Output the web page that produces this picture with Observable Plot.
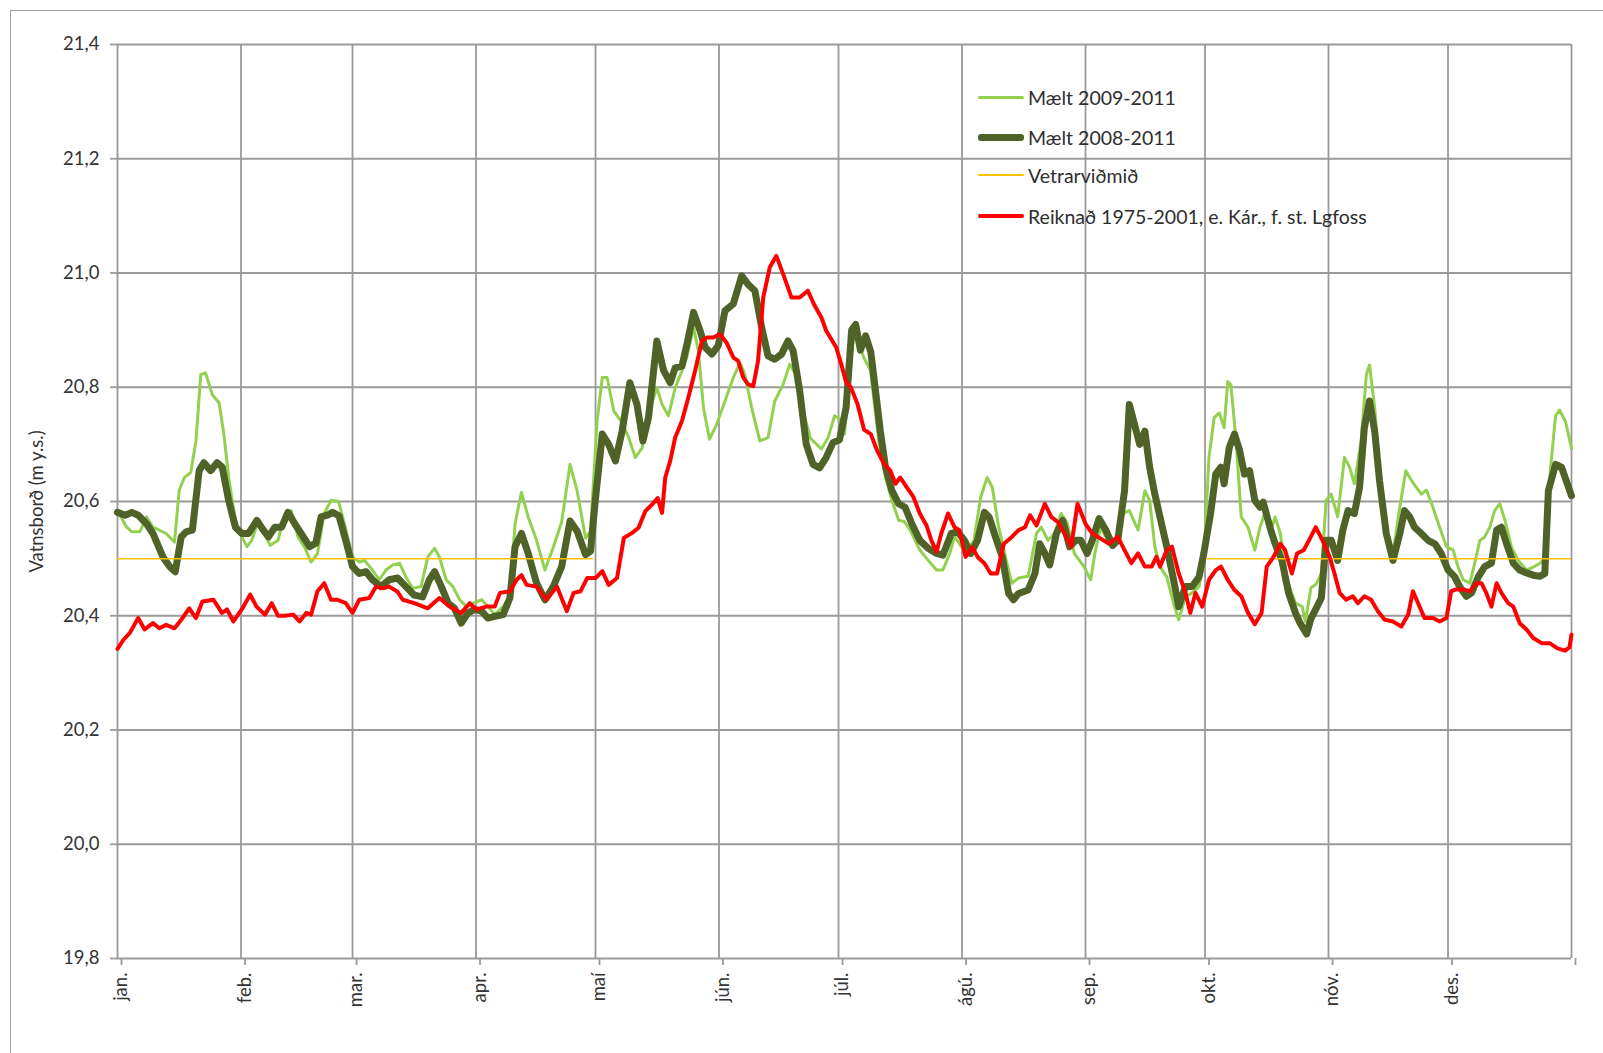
<!DOCTYPE html>
<html>
<head>
<meta charset="utf-8">
<script src="https://cdn.jsdelivr.net/npm/d3@7"></script>
<script src="https://cdn.jsdelivr.net/npm/@observablehq/plot@0.6"></script>
<style>
html, body { margin: 0; padding: 0; background: #fff; overflow: hidden; }
#wrap { position: relative; width: 1603px; height: 1053px; }
#frame { position: absolute; left: 10px; top: 10px; width: 1650px; height: 1100px; border: 1.5px solid #a0a0a0; box-sizing: border-box; }
#chart { position: absolute; left: 0; top: 0; }
#legend { position: absolute; left: 0; top: 0; font-family: Lato, "Open Sans", sans-serif; font-size: 19.5px; color: #2e2e2e; }
.row { position: absolute; left: 978px; height: 22px; display: flex; align-items: center; white-space: nowrap; }
.sw { display: inline-block; width: 46px; margin-right: 4px; border-radius: 3px; }
</style>
</head>
<body>
<div id="wrap">
  <div id="frame"></div>
  <div id="chart"></div>
  <div id="legend"></div>
</div>
<script>
// ---- data ----
const monthStarts = [0, 31, 59, 90, 120, 151, 181, 212, 243, 273, 304, 334];
const monthLabels = ["jan.", "feb.", "mar.", "apr.", "maí", "jún.", "júl.", "ágú.", "sep.", "okt.", "nóv.", "des."];
const yearEnd = 365;
const yTicks = [19.8, 20.0, 20.2, 20.4, 20.6, 20.8, 21.0, 21.2, 21.4];

const seriesNames = ["Mælt 2009-2011", "Mælt 2008-2011", "Vetrarviðmið", "Reiknað 1975-2001, e. Kár., f. st. Lgfoss"];

const lgDays = [0,2.3,3.6,5.6,7.3,8.9,12.2,14.3,15.5,16.8,18.4,19.7,20.9,22.1,23.8,25.5,26.7,27.9,29.6,31.2,32.5,33.7,35.4,37,38.3,40.3,42,43.6,45.3,46.9,48.6,50.2,51.9,53.6,55.5,57,59,60.7,62,64,65.7,67.4,69.1,70.8,72.4,74.1,76.2,77.9,79.6,80.8,82.5,84.2,85.9,87.6,89.3,91.4,93,94.7,96.8,98.5,99.8,101.4,103.1,105.2,107.3,109.4,111.5,113.6,115.4,117.5,118.75,120.4,121.7,122.9,124.6,126.7,128.3,130,131.7,133.75,135.4,136.7,138.3,140,141.7,142.9,144.6,145.8,147.1,148.6,150.4,152.5,154.6,156.25,157.5,159.2,161.25,163.3,165,167.1,168.75,170.5,172,174,176.7,178.4,180,181.2,182.5,183.7,185,187.4,189,191.1,192.8,194.4,196.1,197.5,199,201.4,203.5,205.6,207.2,208.9,210.1,211.3,212.9,215,216.7,218.3,219.6,221.2,222.9,224.5,226.2,228.6,230.7,231.9,233.6,235.2,236.9,238.5,240.2,242.6,244.3,245.5,246.8,248.1,249.8,251.1,252.3,254,256.2,257.9,259.1,260.4,261.7,263.4,265.1,266.4,268.1,269.8,271.5,272.7,274,275.3,276.6,277.8,278.7,279.5,280.8,282.1,283.8,285.5,286.8,288,289.3,290.6,291.9,293.6,295.7,297.4,298.2,299.6,300.9,302.2,303.4,304.7,306.3,308,309.3,310.5,312.2,313.5,314.3,315.6,316.8,318.5,320.2,321.9,323.4,324.8,326,327.3,328.6,330.2,331.9,333.6,335.3,336.5,337.8,339.5,340.7,342,343.2,344.5,345.7,347,348.3,349.9,351.6,353.7,355.4,357.1,358.7,359.6,361,362,363.5,365];
const lgVals = [20.584,20.555,20.547,20.547,20.573,20.555,20.544,20.529,20.62,20.642,20.651,20.706,20.822,20.825,20.787,20.773,20.718,20.642,20.567,20.538,20.521,20.532,20.567,20.544,20.523,20.532,20.579,20.584,20.538,20.521,20.494,20.509,20.579,20.602,20.6,20.56,20.503,20.494,20.497,20.48,20.463,20.48,20.489,20.492,20.468,20.448,20.451,20.503,20.518,20.503,20.463,20.451,20.428,20.416,20.422,20.428,20.416,20.402,20.416,20.434,20.561,20.616,20.573,20.532,20.48,20.52,20.564,20.665,20.618,20.536,20.548,20.741,20.817,20.817,20.758,20.738,20.712,20.677,20.694,20.764,20.799,20.77,20.75,20.799,20.829,20.852,20.905,20.864,20.764,20.709,20.735,20.776,20.817,20.843,20.822,20.764,20.706,20.712,20.776,20.805,20.84,20.82,20.76,20.71,20.692,20.712,20.75,20.745,20.718,20.822,20.9,20.851,20.83,20.706,20.642,20.602,20.567,20.565,20.55,20.515,20.497,20.48,20.48,20.509,20.538,20.527,20.509,20.532,20.608,20.642,20.625,20.555,20.503,20.457,20.466,20.469,20.544,20.555,20.532,20.544,20.579,20.56,20.509,20.486,20.463,20.515,20.555,20.538,20.52,20.544,20.579,20.584,20.55,20.619,20.602,20.521,20.486,20.468,20.422,20.393,20.434,20.44,20.451,20.497,20.678,20.747,20.755,20.729,20.81,20.804,20.706,20.573,20.555,20.515,20.555,20.579,20.544,20.573,20.544,20.463,20.422,20.416,20.39,20.449,20.455,20.474,20.602,20.613,20.573,20.677,20.66,20.631,20.706,20.822,20.839,20.764,20.648,20.555,20.509,20.59,20.654,20.637,20.625,20.613,20.62,20.59,20.555,20.521,20.515,20.486,20.463,20.457,20.492,20.532,20.538,20.555,20.584,20.596,20.567,20.521,20.497,20.48,20.485,20.492,20.503,20.648,20.75,20.76,20.74,20.693];

const dgDays = [0,1.9,3.6,5.2,7.3,8.9,11.4,13.1,14.5,16,17.2,18.8,20.5,21.7,23.4,25,26.3,27.9,29.6,31.2,32.9,35,36.6,37.9,39.5,41.2,42.8,44.5,46.1,48.2,49.8,51.1,52.7,54,55.6,57.3,59,60.7,62.4,64,66.1,68.2,70.3,72.4,74.5,76.6,78.3,79.6,81.3,83,84.6,86.3,88,89.7,91.4,93,94.7,96.8,98.5,99.8,101.4,103.1,105.2,107.3,109.4,111.5,113.6,115.4,117.5,118.75,120,121.7,123.3,125,126.7,128.6,130.4,131.9,133.3,135.4,137.1,138.75,140,141.7,143.1,144.6,146.25,147.5,149.2,150.8,152.5,154.6,156.7,158.3,160,161.7,163.3,165,166.7,168.3,169.6,171.25,172.9,174.6,176.25,177.9,179.6,181.25,182.9,184.3,185.3,186.5,187.8,189.1,190.3,191.5,192.8,194.4,196.1,197.7,199.4,201.4,203.5,205.6,207.2,209.3,210.9,212.6,214.2,215.9,217.6,218.8,220.4,222.1,223.7,224.9,226.2,228.6,230.3,231.5,232.8,234,235.7,237.3,239,240.6,241.8,243.4,244.7,246.4,248.1,249.8,251.1,252.8,254,255.3,256.6,257.9,259.1,260.4,261.7,263.4,265.1,266.4,268.1,269.8,271.5,272.7,274.4,275.7,277,277.8,279.1,280.4,281.7,282.9,284.2,285.5,286.8,287.6,289.3,290.6,292.3,294,295.7,296.8,298.5,299.6,300.9,302.2,303.4,304.7,306.3,307.6,308.9,310.5,311.8,313,314.3,315.6,316.8,318.5,320.2,321.9,323.1,324.4,325.6,327.3,329,330.7,332.3,334,335.7,336.9,338.6,339.9,341.6,343.2,344.9,346.2,347.4,348.7,350.4,352,353.7,355.4,357.1,358.3,359.2,361,362.5,365];
const dgVals = [20.581,20.576,20.581,20.576,20.561,20.544,20.503,20.486,20.477,20.538,20.547,20.55,20.654,20.668,20.654,20.668,20.66,20.602,20.555,20.544,20.544,20.567,20.55,20.538,20.555,20.555,20.581,20.561,20.544,20.521,20.527,20.573,20.576,20.581,20.575,20.532,20.486,20.474,20.477,20.463,20.451,20.463,20.466,20.451,20.436,20.433,20.463,20.477,20.451,20.422,20.413,20.387,20.405,20.411,20.408,20.396,20.399,20.402,20.431,20.521,20.544,20.509,20.457,20.428,20.451,20.486,20.566,20.548,20.507,20.513,20.606,20.718,20.7,20.671,20.724,20.808,20.77,20.706,20.747,20.881,20.829,20.808,20.834,20.837,20.88,20.931,20.899,20.87,20.858,20.873,20.934,20.946,20.995,20.98,20.969,20.905,20.855,20.849,20.858,20.881,20.864,20.794,20.7,20.665,20.659,20.677,20.703,20.708,20.764,20.9,20.91,20.865,20.89,20.862,20.793,20.723,20.66,20.619,20.596,20.59,20.561,20.532,20.518,20.509,20.506,20.544,20.547,20.532,20.509,20.532,20.581,20.573,20.538,20.503,20.439,20.428,20.439,20.445,20.474,20.526,20.509,20.489,20.544,20.567,20.521,20.532,20.532,20.509,20.532,20.57,20.55,20.523,20.532,20.619,20.77,20.735,20.7,20.723,20.66,20.613,20.573,20.521,20.463,20.416,20.451,20.451,20.468,20.509,20.579,20.648,20.66,20.631,20.695,20.718,20.689,20.648,20.654,20.602,20.59,20.599,20.555,20.526,20.497,20.439,20.405,20.388,20.368,20.395,20.413,20.431,20.532,20.532,20.497,20.55,20.584,20.579,20.625,20.729,20.776,20.723,20.637,20.544,20.497,20.544,20.584,20.573,20.555,20.544,20.532,20.526,20.509,20.48,20.468,20.451,20.434,20.44,20.468,20.486,20.492,20.55,20.555,20.526,20.492,20.48,20.475,20.471,20.469,20.474,20.619,20.665,20.66,20.61];

const redDays = [0,1.5,3.1,5.2,6.8,8.9,10.5,12.2,14.3,16,18,19.7,21.3,24.1,26.2,27.5,29.1,31.2,33.3,34.9,37,38.7,40.3,42,44.1,45.7,47.4,48.6,50.2,51.9,53.6,55.2,57.3,59,60.7,63.2,64.9,66.6,68.2,70.3,71.6,74.5,77.9,80.8,83.4,86.3,88.4,90.1,92.6,94.7,96,98.5,100.2,101.4,102.7,105.2,107.7,110.3,112.8,114.5,116.25,117.9,120,121.7,123.3,125.4,127.1,129.2,130.8,132.5,134.2,135.6,136.7,137.5,138.75,140,141.7,143.3,145,146.7,147.9,149.6,151.25,152.9,154.6,155.8,157.1,158.3,159.6,160.8,162.1,163.75,165.4,167.1,169.2,171.25,173.3,175,176.7,177.9,179.2,180.4,181.7,182.9,184.1,185.8,187.4,189.1,190.7,192.4,194,195.3,196.5,198.1,199.8,201.4,203.1,204.3,205.6,206.8,208.5,210.1,211.3,212.9,214.6,215.9,217.6,219.2,220.8,222.5,224.5,226.2,227.8,229.1,230.7,232.8,234.4,236.1,237.7,239.4,241,243,244.7,246.8,248.9,251.1,252.8,254.5,256.2,257.9,259.6,260.8,261.7,263.4,264.7,266.4,268.1,269.3,270.6,272.3,274,275.7,277,278.7,280.4,282.1,283.8,285.5,287.2,288.5,290.2,291.9,293.1,294.8,296.1,297.8,299.1,300.8,302.5,304.3,305.5,306.8,308.4,310.1,311.4,313,314.7,316.4,318.1,320.2,322.3,324,325.2,326.5,328.1,330.2,331.9,333.6,334.8,336.1,337.8,339.5,341.2,342.4,343.6,344.9,346.2,347.4,349.1,350.4,352,353.7,355.4,357.5,359.5,361.5,363.4,364.5,365];
const redVals = [20.342,20.358,20.37,20.396,20.376,20.387,20.378,20.384,20.378,20.393,20.413,20.396,20.425,20.428,20.405,20.411,20.39,20.411,20.437,20.416,20.402,20.422,20.4,20.4,20.402,20.39,20.405,20.402,20.443,20.457,20.428,20.428,20.422,20.405,20.428,20.431,20.451,20.448,20.451,20.442,20.428,20.422,20.413,20.431,20.416,20.405,20.422,20.411,20.416,20.416,20.44,20.443,20.463,20.471,20.454,20.451,20.428,20.451,20.408,20.44,20.443,20.466,20.466,20.478,20.454,20.466,20.536,20.545,20.554,20.583,20.595,20.606,20.58,20.642,20.671,20.712,20.741,20.782,20.829,20.881,20.887,20.887,20.893,20.878,20.852,20.846,20.817,20.805,20.802,20.846,20.957,21.01,21.03,20.998,20.957,20.957,20.969,20.943,20.922,20.899,20.884,20.87,20.84,20.809,20.8,20.77,20.726,20.718,20.689,20.666,20.654,20.631,20.642,20.625,20.608,20.579,20.558,20.532,20.512,20.544,20.579,20.555,20.55,20.503,20.52,20.503,20.492,20.474,20.474,20.526,20.538,20.55,20.555,20.576,20.558,20.596,20.573,20.564,20.544,20.521,20.596,20.561,20.544,20.535,20.526,20.538,20.515,20.492,20.509,20.486,20.486,20.503,20.486,20.515,20.521,20.474,20.44,20.405,20.44,20.416,20.463,20.48,20.486,20.463,20.445,20.434,20.405,20.385,20.405,20.486,20.503,20.526,20.515,20.474,20.509,20.515,20.532,20.555,20.532,20.503,20.474,20.44,20.428,20.434,20.422,20.434,20.428,20.408,20.393,20.39,20.381,20.402,20.443,20.422,20.396,20.396,20.39,20.396,20.443,20.446,20.446,20.443,20.457,20.457,20.44,20.416,20.457,20.44,20.422,20.416,20.387,20.376,20.361,20.352,20.352,20.343,20.339,20.345,20.367];

const winterLevel = 20.5;
const winterStarts = [0, 273.5];
const winterEnds = [119.5, 365];

// ---- build tables ----
const rows = (days, vals) => days.map((d, i) => ({ day: d, v: vals[i] }));
const lg = rows(lgDays, lgVals);
const dg = rows(dgDays, dgVals);
const red = rows(redDays, redVals);
const winter = winterStarts.map((s, i) => ({ start: s, end: winterEnds[i], v: winterLevel }));

const colors = ["#92d050", "#4f6228", "#ffc000", "#ff0000"];
const widths = [3, 7, 1.5, 4];
const gridColor = "#9a9a9a";
const fmt = d => d.toFixed(1).replace(".", ",");
const xTicks = [...monthStarts, yearEnd];

const chart = Plot.plot({
  width: 1603,
  height: 1053,
  marginLeft: 117,
  marginRight: 32,
  marginTop: 44,
  marginBottom: 95,
  style: { fontFamily: "Lato, 'Open Sans', sans-serif", fontSize: "18.5px", color: "#333", background: "transparent" },
  x: { type: "linear", domain: [0, yearEnd] },
  y: { type: "linear", domain: [yTicks[0], yTicks[yTicks.length - 1]] },
  marks: [
    Plot.gridX(xTicks, { stroke: gridColor, strokeOpacity: 1, strokeWidth: 1.8 }),
    Plot.gridY(yTicks, { stroke: gridColor, strokeOpacity: 1, strokeWidth: 1.8 }),
    Plot.axisY(yTicks, {
      tickFormat: fmt, tickSize: 7, tickPadding: 11, stroke: gridColor, strokeWidth: 1.8,
      label: "Vatnsborð (m y.s.)", labelAnchor: "center", labelArrow: "none", labelOffset: 88
    }),
    Plot.axisX(xTicks, {
      tickFormat: d => (d === yearEnd ? "" : monthLabels[monthStarts.indexOf(d)]), tickRotate: -90, tickSize: 7, tickPadding: 7,
      stroke: gridColor, strokeWidth: 1.8, label: null, dx: 4
    }),
    Plot.line(lg, { x: "day", y: "v", stroke: colors[0], strokeWidth: widths[0] }),
    Plot.line(dg, { x: "day", y: "v", stroke: colors[1], strokeWidth: widths[1] }),
    Plot.ruleY(winter, { y: "v", x1: "start", x2: "end", stroke: colors[2], strokeWidth: widths[2] }),
    Plot.line(red, { x: "day", y: "v", stroke: colors[3], strokeWidth: widths[3] })
  ]
});
document.getElementById("chart").appendChild(chart);

// ---- legend (HTML) ----
const legendTops = [86, 126, 164, 205];
const legend = document.getElementById("legend");
seriesNames.forEach((name, i) => {
  const row = document.createElement("div");
  row.className = "row";
  row.style.top = legendTops[i] + "px";
  const sw = document.createElement("span");
  sw.className = "sw";
  sw.style.height = widths[i] + "px";
  sw.style.background = colors[i];
  row.appendChild(sw);
  const t = document.createElement("span");
  t.textContent = name;
  row.appendChild(t);
  legend.appendChild(row);
});
</script>
</body>
</html>
